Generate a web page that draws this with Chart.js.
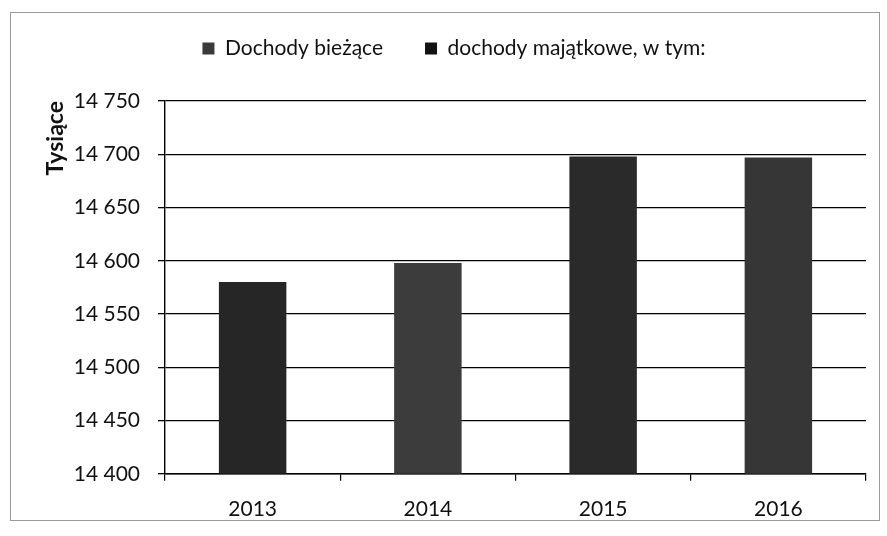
<!DOCTYPE html>
<html><head><meta charset="utf-8">
<script src="https://cdn.jsdelivr.net/npm/chart.js@4"></script>
<style>
html,body{margin:0;padding:0;background:#fff;}
#wrap{position:relative;width:887px;height:536px;overflow:hidden;}
#frame{position:absolute;left:10px;top:12px;width:868px;height:507px;border:1px solid #9a9a9a;pointer-events:none;}
canvas{position:absolute;left:0;top:0;}
</style></head><body>
<div id="wrap"><canvas id="c" width="887" height="536"></canvas><div id="frame"></div></div>
<script>
const categories = ['2013', '2014', '2015', '2016'];
const dochodyBiezace = [14580, 14598, 14698, 14697];
const dochodyMajatkowe = [null, null, null, null];
const yMin = 14400, yMax = 14750, yStep = 50;
const seriesNames = ['Dochody bieżące', 'dochody majątkowe, w tym:'];
const yTitle = 'Tysiące';

const fmt = v => String(v).replace(/\B(?=(\d{3})+(?!\d))/g, ' ');
const FONT = 'Lato, "Liberation Sans", sans-serif';

const legendSpace = {
  id: 'legendSpace',
  beforeInit(chart) {
    const lg = chart.legend;
    if (!lg) return;
    const orig = lg.fit.bind(lg);
    lg.fit = function () { orig(); this.height += 32; };
  }
};

new Chart(document.getElementById('c'), {
  type: 'bar',
  data: {
    labels: categories,
    datasets: [
      { label: seriesNames[0], data: dochodyBiezace, backgroundColor: ['#262626', '#3c3c3c', '#2a2a2a', '#363636'], borderWidth: 0 },
      { label: seriesNames[1], data: dochodyMajatkowe, backgroundColor: '#111111', borderWidth: 0 }
    ]
  },
  plugins: [legendSpace],
  options: {
    responsive: false,
    animation: false,
    layout: { padding: { top: -4, right: 21, bottom: -2, left: 42 } },
    datasets: { bar: { categoryPercentage: 1, barPercentage: 0.385 } },
    plugins: {
      tooltip: { enabled: false },
      legend: {
        position: 'top',
        labels: {
          font: { family: FONT, size: 21 },
          color: '#111',
          boxWidth: 12, boxHeight: 12,
          padding: 42,
          generateLabels: (chart) => chart.data.datasets.map((d, i) => ({
            text: d.label, fillStyle: i === 0 ? '#3a3a3a' : '#111', strokeStyle: i === 0 ? '#3a3a3a' : '#111', lineWidth: 0, datasetIndex: i, fontColor: '#111'
          }))
        }
      }
    },
    scales: {
      x: {
        stacked: true,
        grid: { drawOnChartArea: false, drawTicks: true, tickLength: 7, color: '#000', lineWidth: 1.2 },
        border: { color: '#000', width: 1.4 },
        ticks: { font: { family: FONT, size: 21 }, color: '#111', padding: 16 }
      },
      y: {
        stacked: true,
        min: yMin, max: yMax,
        afterFit: s => { s.width = 123; },
        grid: { color: '#000', lineWidth: 1.3, tickLength: 7 },
        border: { color: '#000', width: 1.4 },
        ticks: { stepSize: yStep, font: { family: FONT, size: 21 }, color: '#111', padding: 18, callback: v => fmt(v) },
        title: { display: true, text: yTitle, align: 'end', font: { family: FONT, size: 23, weight: 'bold' }, color: '#111', padding: { top: 0, bottom: 0 } }
      }
    }
  }
});
</script>
</body></html>
